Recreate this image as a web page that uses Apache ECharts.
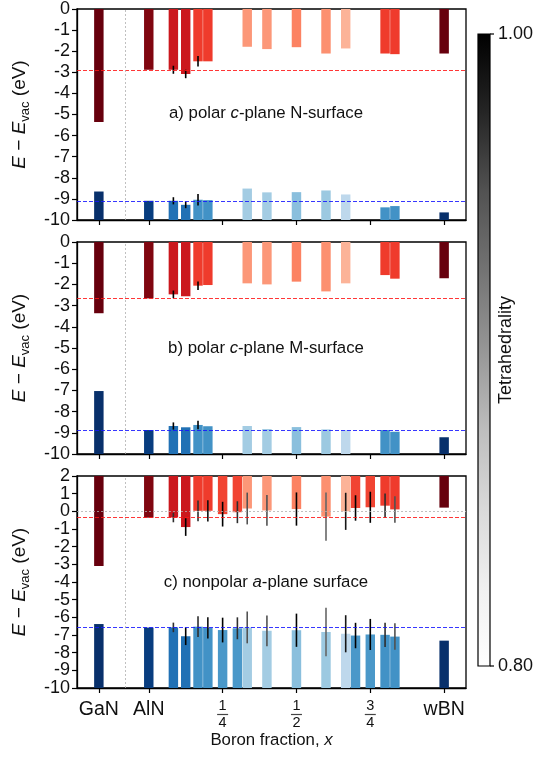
<!DOCTYPE html>
<html><head><meta charset="utf-8">
<script src="https://cdn.jsdelivr.net/npm/echarts@6/dist/echarts.min.js"></script>
<style>html,body{margin:0;padding:0;background:#fff}#c{width:538px;height:759px}</style>
</head><body><div id="c"></div>
<script>
// ---------------- DATA ----------------
const compositions = ['GaN','AlN','1/12','1/8','1/6','1/5','1/4','3/10','1/3','2/5','1/2','3/5','2/3','7/10','3/4','4/5','5/6','wBN'];
const boronX = [-0.169, 0, 0.0833, 0.125, 0.1667, 0.2, 0.25, 0.3, 0.3333, 0.4, 0.5, 0.6, 0.6667, 0.7, 0.75, 0.8, 0.8333, 1.0];
// bulk tetrahedrality of each composition (sets the bar colour)
const tetraBulk = [1.0, 0.99, 0.95, 0.95, 0.925, 0.925, 0.92, 0.92, 0.872, 0.872, 0.885, 0.876, 0.855, 0.92, 0.92, 0.925, 0.925, 1.0];

// a) polar c-plane N-surface
const cbmA = [-5.36, -2.88, -2.88, -3.08, -2.48, -2.48, null, null, -1.79, -1.90, -1.81, -2.11, -1.87, null, null, -2.11, -2.14, -2.11];
const vbmA = [-8.65, -9.09, -9.09, -9.28, -9.04, -9.06, null, null, -8.51, -8.69, -8.68, -8.60, -8.79, null, null, -9.40, -9.34, -9.64];
const errCbmA = [null, null, 0.19, 0.20, 0.25, null, null, null, null, null, null, null, null, null, null, null, null, null];
const errVbmA = [null, null, 0.17, 0.16, 0.27, null, null, null, null, null, null, null, null, null, null, null, null, null];

// b) polar c-plane M-surface
const cbmB = [-3.36, -2.66, -2.47, -2.56, -2.06, -2.03, null, null, -1.95, -2.00, -1.87, -2.33, -1.95, null, null, -1.56, -1.73, -1.71];
const vbmB = [-7.03, -8.87, -8.68, -8.74, -8.63, -8.69, null, null, -8.68, -8.82, -8.73, -8.84, -8.87, null, null, -8.87, -8.95, -9.21];
const errCbmB = [null, null, 0.18, null, 0.20, null, null, null, null, null, null, null, null, null, null, null, null, null];
const errVbmB = [null, null, 0.17, null, 0.20, null, null, null, null, null, null, null, null, null, null, null, null, null];

// c) nonpolar a-plane surface
const cbmC = [-3.09, -0.36, -0.35, -0.89, 0.03, 0.03, -0.16, -0.05, 0.16, 0.05, 0.13, -0.30, 0.00, 0.19, 0.23, 0.32, 0.11, 0.21];
const vbmC = [-6.38, -6.58, -6.57, -7.07, -6.53, -6.60, -6.72, -6.62, -6.57, -6.76, -6.73, -6.83, -6.93, -7.03, -6.97, -6.99, -7.09, -7.32];
const errC = [null, null, 0.27, 0.50, 0.59, 0.60, 0.70, 0.62, 0.90, 0.87, 0.94, 1.37, 1.05, 0.72, 0.88, 0.69, 0.75, null];
// tetrahedrality of the surface models (sets the error-bar grey)
const tetraSurfA = [null, null, 1.0, 1.0, 1.0, null, null, null, null, null, null, null, null, null, null, null, null, null];
const tetraSurfB = [null, null, 1.0, null, 1.0, null, null, null, null, null, null, null, null, null, null, null, null, null];
const tetraSurfC = [null, null, 0.97, 1.0, 0.97, 0.99, 1.0, 0.97, 0.95, 0.95, 1.0, 0.935, 0.985, 1.0, 1.0, 0.97, 0.95, null];

// AlN reference band edges (dashed lines)
const refCbm = [-2.88, -2.66, -0.36];
const refVbm = [-9.09, -8.88, -6.58];

const yRangeA = [-10, 0], yRangeB = [-10, 0], yRangeC = [-10, 2];
const yTicksC = [2, 1, 0, -1, -2, -3, -4, -5, -6, -7, -8, -9, -10];
const xTickPos = [-0.169, 0, 0.25, 0.5, 0.75, 1];
const xTickLabels = ['GaN', 'AlN', '1/4', '1/2', '3/4', 'wBN'];
const separatorX = -0.084;
const panelTitles = ['a) polar {i|c}-plane N-surface', 'b) polar {i|c}-plane M-surface', 'c) nonpolar {i|a}-plane surface'];
const cbarTicks = ['1.00', '0.80'];

// ---------------- STYLE ----------------
const FONT = 'Liberation Sans, Arial, sans-serif';
const XMIN = -0.243, XMAX = 1.074;
const BAR_W = 0.032;
const REDS = ['#fff5f0','#fee0d2','#fcbba1','#fc9272','#fb6a4a','#ef3b2c','#cb181d','#a50f15','#67000d'];
const BLUES = ['#f7fbff','#deebf7','#c6dbef','#9ecae1','#6baed6','#4292c6','#2171b5','#08519c','#08306b'];
const GREYS = ['#ffffff','#f0f0f0','#d9d9d9','#bdbdbd','#969696','#737373','#525252','#252525','#000000'];
function hex2rgb(h){return [parseInt(h.substr(1,2),16),parseInt(h.substr(3,2),16),parseInt(h.substr(5,2),16)];}
function cmap(stops, t){
  let n = (t - 0.8) / 0.2; n = Math.max(0, Math.min(1, n));
  const p = n * (stops.length - 1); const i = Math.min(Math.floor(p), stops.length - 2); const f = p - i;
  const a = hex2rgb(stops[i]), b = hex2rgb(stops[i+1]);
  return 'rgb(' + a.map((v,k)=>Math.round(v + (b[k]-v)*f)).join(',') + ')';
}
const TXT = '#111';
const YTICK_FONT = 18, YTICK_MARGIN = 7;

const grids = [
  {left: 76, right: 72, top: 8, height: 212},
  {left: 76, right: 72, top: 242, height: 212},
  {left: 76, right: 72, top: 476, height: 212}
].map(g => Object.assign(g, {show: true, borderColor: '#000', borderWidth: 1.3, backgroundColor: 'transparent'}));

function fracLabel(v){
  const i = xTickPos.findIndex(p => Math.abs(p - v) < 1e-6);
  if (i < 0) return '';
  const s = xTickLabels[i];
  if (s.indexOf('/') >= 0) { const [n, d] = s.split('/'); return '{n|' + n + '}\n{l| }\n{d|' + d + '}'; }
  return '{w|' + s + '}';
}

const xAxes = [0,1,2].map(g => ({
  type: 'value', gridIndex: g, min: XMIN, max: XMAX,
  splitLine: {show: false},
  axisLine: {show: true, onZero: false, lineStyle: {color: '#000', width: 1.3}},
  axisTick: {show: true, customValues: xTickPos, length: 5, lineStyle: {color: '#000', width: 1.2}},
  axisLabel: {show: g === 2, customValues: xTickPos, formatter: fracLabel, margin: 11, color: TXT,
    rich: {
      w: {fontSize: 19.5, fontFamily: FONT, color: TXT, lineHeight: 21},
      n: {fontSize: 14.5, fontFamily: FONT, color: TXT, lineHeight: 14, align: 'center'},
      l: {width: 11, height: 1.2, lineHeight: 3, fontSize: 1, backgroundColor: '#444', align: 'center'},
      d: {fontSize: 14.5, fontFamily: FONT, color: TXT, lineHeight: 14, align: 'center'}
    }},
  name: g === 2 ? 'Boron fraction, {i|x}' : '', nameLocation: 'middle', nameGap: 34,
  nameTextStyle: {fontSize: 16.8, fontFamily: FONT, color: TXT, rich: {i: {fontSize: 16.8, fontFamily: FONT, fontStyle: 'italic', color: TXT}}}
}));

const yRanges = [yRangeA, yRangeB, yRangeC];
const yAxes = [0,1,2].map(g => ({
  type: 'value', gridIndex: g, min: yRanges[g][0], max: yRanges[g][1], interval: 1,
  splitLine: {show: false},
  axisLine: {show: true, onZero: false, lineStyle: {color: '#000', width: 1.3}},
  axisTick: {show: true, length: 5, lineStyle: {color: '#000', width: 1.2}},
  // panel c: the 17.7 px tick spacing makes ECharts drop labels, so they are placed below from the axis scale
  axisLabel: {show: g !== 2, fontSize: YTICK_FONT, fontFamily: FONT, color: TXT, margin: YTICK_MARGIN, formatter: v => String(v)},
  name: '{i|E} − {i|E}{s|vac} (eV)', nameLocation: 'middle', nameGap: 45,
  nameTextStyle: {fontSize: 19, fontFamily: FONT, color: TXT, lineHeight: 24,
    rich: {
      i: {fontSize: 19, fontFamily: FONT, fontStyle: 'italic', color: TXT, lineHeight: 24},
      s: {fontSize: 13, fontFamily: FONT, color: TXT, lineHeight: 12, verticalAlign: 'bottom'}
    }}
}));

function barSeries(g, vals, stops, fromTop){
  const data = [];
  vals.forEach((v, i) => { if (v !== null) data.push([boronX[i], v, tetraBulk[i]]); });
  const base = fromTop ? yRanges[g][1] : yRanges[g][0];
  return {
    type: 'custom', xAxisIndex: g, yAxisIndex: g, data: data, clip: true, z: 2, silent: true,
    encode: {x: 0, y: 1},
    renderItem: (params, api) => {
      const x = api.value(0), v = api.value(1), t = api.value(2);
      const p1 = api.coord([x - BAR_W/2, base]);
      const p2 = api.coord([x + BAR_W/2, v]);
      return {type: 'rect',
        shape: {x: p1[0], y: Math.min(p1[1], p2[1]), width: p2[0] - p1[0], height: Math.abs(p2[1] - p1[1])},
        style: {fill: cmap(stops, t)}};
    }
  };
}
function errSeries(g, vals, errs, shades){
  const data = [];
  vals.forEach((v, i) => { if (v !== null && errs[i] !== null) data.push([boronX[i], v, errs[i], shades[i]]); });
  return {
    type: 'custom', xAxisIndex: g, yAxisIndex: g, data: data, clip: true, z: 4, silent: true,
    encode: {x: 0, y: 1},
    renderItem: (params, api) => {
      const x = api.value(0), v = api.value(1), e = api.value(2), s = api.value(3);
      const p1 = api.coord([x, v - e]), p2 = api.coord([x, v + e]);
      return {type: 'line', shape: {x1: p1[0], y1: p1[1], x2: p2[0], y2: p2[1]},
        style: {stroke: cmap(GREYS, s), lineWidth: 1.6}};
    }
  };
}
function refSeries(g){
  const ml = [
    {yAxis: refCbm[g], lineStyle: {color: 'rgba(255,20,20,0.85)', type: [4, 2], width: 1}},
    {yAxis: refVbm[g], lineStyle: {color: 'rgba(20,20,255,0.85)', type: [4, 2], width: 1}},
    {xAxis: separatorX, lineStyle: {color: '#b0b0b0', type: [2, 2], width: 0.8}}
  ];
  if (g === 2) ml.push({yAxis: 0, lineStyle: {color: '#b0b0b0', type: [2, 2], width: 0.8}});
  return {
    type: 'line', xAxisIndex: g, yAxisIndex: g, data: [], z: 5, silent: true,
    markLine: {symbol: 'none', silent: true, label: {show: false}, animation: false, data: ml}
  };
}

const series = [];
const cbms = [cbmA, cbmB, cbmC], vbms = [vbmA, vbmB, vbmC];
const errCb = [errCbmA, errCbmB, errC], errVb = [errVbmA, errVbmB, errC];
const shades = [tetraSurfA, tetraSurfB, tetraSurfC];
[0,1,2].forEach(g => {
  series.push(barSeries(g, cbms[g], REDS, true));
  series.push(barSeries(g, vbms[g], BLUES, false));
  series.push(errSeries(g, cbms[g], errCb[g], shades[g]));
  series.push(errSeries(g, vbms[g], errVb[g], shades[g]));
  series.push(refSeries(g));
});

const titleY = [113, 348, 582];
const graphics = panelTitles.map((t, k) => ({
  type: 'text', x: 266, y: titleY[k], z: 10,
  style: {text: t, fontSize: 16.8, fontFamily: FONT, fill: TXT, align: 'center', verticalAlign: 'middle',
    rich: {i: {fontSize: 16.8, fontFamily: FONT, fontStyle: 'italic', fill: TXT}}}
}));
// colour bar (Greys, 0.80 -> 1.00)
const CB = {x: 478, y: 34, w: 12, h: 632};
graphics.push({type: 'rect', shape: {x: CB.x, y: CB.y, width: CB.w, height: CB.h}, z: 10,
  style: {fill: {type: 'linear', x: 0, y: 0, x2: 0, y2: 1,
    colorStops: GREYS.slice().reverse().map((c, k) => ({offset: k / (GREYS.length - 1), color: c}))},
    stroke: '#000', lineWidth: 1.2}});
graphics.push({type: 'line', shape: {x1: CB.x + CB.w, y1: CB.y, x2: CB.x + CB.w + 4, y2: CB.y}, style: {stroke: '#000', lineWidth: 1.2}, z: 10});
graphics.push({type: 'line', shape: {x1: CB.x + CB.w, y1: CB.y + CB.h, x2: CB.x + CB.w + 4, y2: CB.y + CB.h}, style: {stroke: '#000', lineWidth: 1.2}, z: 10});
graphics.push({type: 'text', x: CB.x + CB.w + 8, y: CB.y, z: 10, style: {text: cbarTicks[0], fontSize: 18, fontFamily: FONT, fill: TXT, align: 'left', verticalAlign: 'middle'}});
graphics.push({type: 'text', x: CB.x + CB.w + 8, y: CB.y + CB.h, z: 10, style: {text: cbarTicks[1], fontSize: 18, fontFamily: FONT, fill: TXT, align: 'left', verticalAlign: 'middle'}});
graphics.push({type: 'text', x: 506, y: CB.y + CB.h / 2, rotation: Math.PI / 2, z: 10,
  style: {text: 'Tetrahedrality', fontSize: 18, fontFamily: FONT, fill: TXT, align: 'center', verticalAlign: 'middle'}});

const chart = echarts.init(document.getElementById('c'), null, {renderer: 'canvas'});
const baseOption = {
  animation: false,
  backgroundColor: '#fff',
  grid: grids,
  xAxis: xAxes,
  yAxis: yAxes,
  series: series
};
chart.setOption(baseOption);
// panel c tick labels, positioned through the panel's own y scale
yTicksC.forEach(v => {
  const p = chart.convertToPixel({xAxisIndex: 2, yAxisIndex: 2}, [XMIN, v]);
  graphics.push({type: 'text', x: p[0] - YTICK_MARGIN, y: p[1], z: 10,
    style: {text: String(v), fontSize: YTICK_FONT, fontFamily: FONT, fill: TXT, align: 'right', verticalAlign: 'middle'}});
});
chart.setOption({graphic: graphics});
</script></body></html>
